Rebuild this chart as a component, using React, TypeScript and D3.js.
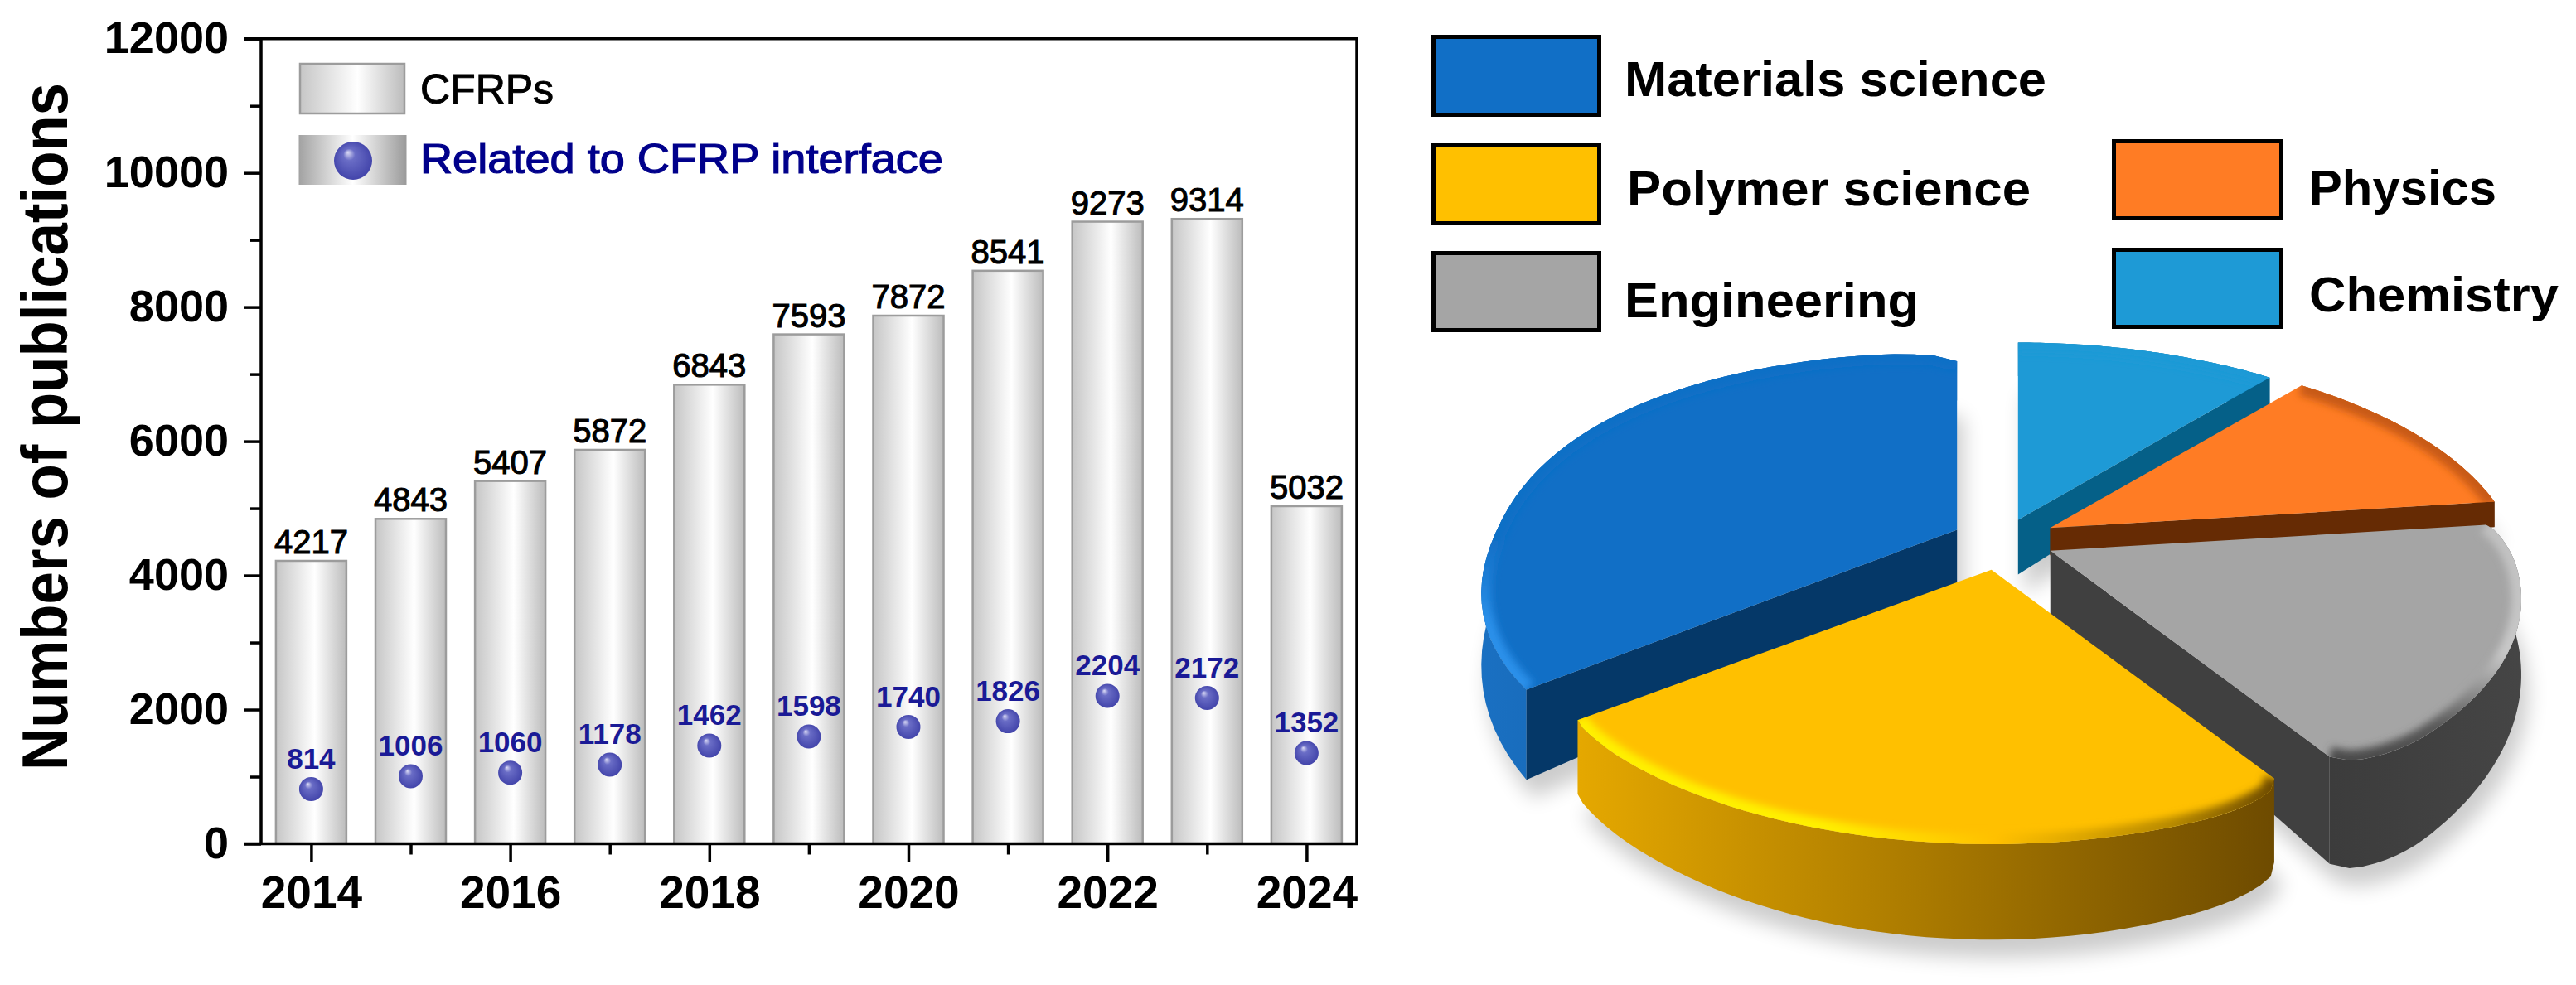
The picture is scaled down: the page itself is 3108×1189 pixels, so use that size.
import { useEffect, useRef } from "react";
import * as d3 from "d3";

// bar + sphere panel
const years = [2014, 2015, 2016, 2017, 2018, 2019, 2020, 2021, 2022, 2023, 2024];
const cfrpCounts = [4217, 4843, 5407, 5872, 6843, 7593, 7872, 8541, 9273, 9314, 5032];
const interfaceCounts = [814, 1006, 1060, 1178, 1462, 1598, 1740, 1826, 2204, 2172, 1352];
const yMajorTicks = [0, 2000, 4000, 6000, 8000, 10000, 12000];
const yMinorTicks = [1000, 3000, 5000, 7000, 9000, 11000];
const xMajorTicks = [2014, 2016, 2018, 2020, 2022, 2024];
const xMinorTicks = [2015, 2017, 2019, 2021, 2023];

// pie panel, clockwise from 12 o'clock
const pieCategories = ["Chemistry", "Physics", "Engineering", "Polymer science", "Materials science"];
const pieShares = [11, 12, 18, 23.5, 35.5];
const pieExplode = [0.1, 0.118, 0.115, 0.14, 0.11];
const pieThickness = [1.1, 0.55, 1.35, 1.05, 1.25];
const pieRoundStart = [0, 0, 0.02, 0.05, 0];
const pieRoundEnd = [0, 0, 0.06, 0.01, 0.06];
const pieBulge = [2, 2, 2, 2, 2.2];
const pieTopColors = ["#1e9ad6", "#ff7c24", "#a5a5a5", "#ffc000", "#116fc6"];
const pieWallColors = ["#056088", "#662b04", "#404040", "#6e4b00", "#053868"];
const pieOuterLeft = ["#056088", "#8a3d08", "#3c3c3c", "#e5a800", "#1a70c2"];
const pieOuterRight = ["#056088", "#662b04", "#454545", "#6e4b00", "#0b4e8e"];
const pieBevelStops: [number, string][][] = [
  [[0, "#1e9ad6"], [1, "#1e9ad6"]],
  [[0, "#c85a12"], [1, "#c85a12"]],
  [[0, "#c0c0c0"], [0.55, "#c8c8c8"], [0.85, "#5a5a5a"], [1, "#4a4a4a"]],
  [[0, "#fff000"], [0.35, "#fff000"], [0.6, "#ffc000"], [0.85, "#b88a00"], [1, "#6e4b00"]],
  [[0, "#116fc6"], [0.55, "#116fc6"], [0.8, "#2b90ea"], [1, "#2b90ea"]],
];
const pieBevelVertical = [false, false, true, false, true];

const pieLegendRows = [
  { name: "Materials science", box: [1727, 42, 205, 99], tx: 1960, ty: 116, len: 509 },
  { name: "Polymer science", box: [1727, 173, 205, 99], tx: 1963, ty: 248, len: 487 },
  { name: "Engineering", box: [1727, 303, 205, 98], tx: 1960, ty: 383, len: 355 },
  { name: "Physics", box: [2548, 168, 207, 98], tx: 2786, ty: 247, len: 226 },
  { name: "Chemistry", box: [2548, 299, 207, 98], tx: 2786, ty: 376, len: 301 },
];

const FONT = "'Liberation Sans', Arial, sans-serif";

export default function App() {
  const ref = useRef<SVGSVGElement>(null);

  useEffect(() => {
    const svg = d3.select(ref.current);
    svg.selectAll("*").remove();
    const defs = svg.append("defs");

    const addLinear = (id: string, stops: [number, string][], vertical = false) => {
      const g = defs
        .append("linearGradient")
        .attr("id", id)
        .attr("x1", 0)
        .attr("y1", 0)
        .attr("x2", vertical ? 0 : 1)
        .attr("y2", vertical ? 1 : 0);
      stops.forEach(([o, c]) => g.append("stop").attr("offset", o).attr("stop-color", c));
    };
    addLinear("barFill", [
      [0, "#c6c6c6"],
      [0.55, "#ffffff"],
      [1, "#bcbcbc"],
    ]);
    addLinear("legendBall", [
      [0, "#a2a2a2"],
      [0.5, "#ffffff"],
      [1, "#9a9a9a"],
    ]);
    const ball = defs
      .append("radialGradient")
      .attr("id", "ball")
      .attr("cx", 0.5)
      .attr("cy", 0.5)
      .attr("r", 0.55)
      .attr("fx", 0.36)
      .attr("fy", 0.28);
    ball.append("stop").attr("offset", 0).attr("stop-color", "#dcdcf6");
    ball.append("stop").attr("offset", 0.28).attr("stop-color", "#6a6dc6");
    ball.append("stop").attr("offset", 1).attr("stop-color", "#3f41a8");

    const blur = (id: string, dev: number) =>
      defs
        .append("filter")
        .attr("id", id)
        .attr("filterUnits", "userSpaceOnUse")
        .attr("x", 0)
        .attr("y", 0)
        .attr("width", 3108)
        .attr("height", 1189)
        .append("feGaussianBlur")
        .attr("stdDeviation", dev);
    blur("softShadow", 12);
    blur("softBevel", 5);

    // ---------- bars ----------
    const xScale = d3.scaleLinear().domain([2014, 2024]).range([375.4, 1576.4]);
    const yScale = d3.scaleLinear().domain([0, 12000]).range([1018.5, 46.7]);
    const barWidth = 85;
    const chart = svg.append("g");

    chart
      .selectAll("rect.bar")
      .data(cfrpCounts)
      .join("rect")
      .attr("class", "bar")
      .attr("x", (_, i) => xScale(years[i]) - barWidth / 2)
      .attr("y", (d) => yScale(d))
      .attr("width", barWidth)
      .attr("height", (d) => yScale(0) - yScale(d))
      .attr("fill", "url(#barFill)")
      .attr("stroke", "#9c9c9c")
      .attr("stroke-width", 2.5);

    chart
      .selectAll("text.barLabel")
      .data(cfrpCounts)
      .join("text")
      .attr("class", "barLabel")
      .attr("x", (_, i) => xScale(years[i]))
      .attr("y", (d) => yScale(d) - 9)
      .attr("text-anchor", "middle")
      .attr("font-family", FONT)
      .attr("font-size", 40)
      .attr("fill", "#000")
      .attr("stroke", "#000")
      .attr("stroke-width", 1.1)
      .text((d) => d);

    chart
      .selectAll("circle.ball")
      .data(interfaceCounts)
      .join("circle")
      .attr("class", "ball")
      .attr("cx", (_, i) => xScale(years[i]))
      .attr("cy", (d) => yScale(d))
      .attr("r", 14.5)
      .attr("fill", "url(#ball)");

    chart
      .selectAll("text.ballLabel")
      .data(interfaceCounts)
      .join("text")
      .attr("class", "ballLabel")
      .attr("x", (_, i) => xScale(years[i]))
      .attr("y", (d) => yScale(d) - 25)
      .attr("text-anchor", "middle")
      .attr("font-family", FONT)
      .attr("font-weight", "bold")
      .attr("font-size", 35)
      .attr("fill", "#1a1a96")
      .text((d) => d);

    // ---------- axes ----------
    const styleAxis = (g: any, fontSize: number) => {
      g.selectAll("path.domain").remove();
      g.selectAll("line").attr("stroke", "#000").attr("stroke-width", 3.5);
      g.selectAll("text")
        .attr("font-family", FONT)
        .attr("font-weight", "bold")
        .attr("font-size", fontSize)
        .attr("fill", "#000");
    };
    const axisX = 315;
    const axisY = yScale(0);
    chart
      .append("g")
      .attr("transform", `translate(${axisX},0)`)
      .call(d3.axisLeft(yScale).tickValues(yMajorTicks).tickSize(21).tickPadding(18).tickFormat(d3.format("d")) as any)
      .call((g: any) => styleAxis(g, 54));
    chart
      .append("g")
      .attr("transform", `translate(${axisX},0)`)
      .call(d3.axisLeft(yScale).tickValues(yMinorTicks).tickSize(13).tickFormat(() => "") as any)
      .call((g: any) => styleAxis(g, 54));
    chart
      .append("g")
      .attr("transform", `translate(0,${axisY})`)
      .call(d3.axisBottom(xScale).tickValues(xMajorTicks).tickSize(22).tickPadding(16).tickFormat(d3.format("d")) as any)
      .call((g: any) => styleAxis(g, 55));
    chart
      .append("g")
      .attr("transform", `translate(0,${axisY})`)
      .call(d3.axisBottom(xScale).tickValues(xMinorTicks).tickSize(13).tickFormat(() => "") as any)
      .call((g: any) => styleAxis(g, 55));

    // frame
    chart
      .append("path")
      .attr("d", `M294,${yScale(12000)}H1637V${axisY}H294M${axisX},${yScale(12000)}V${axisY}`)
      .attr("fill", "none")
      .attr("stroke", "#000")
      .attr("stroke-width", 3.5);

    chart
      .append("text")
      .attr("transform", "translate(81,515) rotate(-90)")
      .attr("text-anchor", "middle")
      .attr("font-family", FONT)
      .attr("font-weight", "bold")
      .attr("font-size", 77)
      .attr("textLength", 830)
      .attr("lengthAdjust", "spacingAndGlyphs")
      .text("Numbers of publications");

    // legend
    chart
      .append("rect")
      .attr("x", 362)
      .attr("y", 77)
      .attr("width", 126)
      .attr("height", 60)
      .attr("fill", "url(#barFill)")
      .attr("stroke", "#9c9c9c")
      .attr("stroke-width", 2.5);
    chart
      .append("text")
      .attr("x", 507)
      .attr("y", 125)
      .attr("font-family", FONT)
      .attr("font-size", 50)
      .attr("stroke", "#000")
      .attr("stroke-width", 1)
      .text("CFRPs");
    chart
      .append("rect")
      .attr("x", 360.5)
      .attr("y", 163)
      .attr("width", 130)
      .attr("height", 60)
      .attr("fill", "url(#legendBall)");
    chart.append("circle").attr("cx", 426).attr("cy", 194).attr("r", 23).attr("fill", "url(#ball)");
    chart
      .append("text")
      .attr("x", 507)
      .attr("y", 209)
      .attr("font-family", FONT)
      .attr("font-size", 50)
      .attr("fill", "#00008b")
      .attr("stroke", "#00008b")
      .attr("stroke-width", 1.2)
      .attr("textLength", 631)
      .attr("lengthAdjust", "spacingAndGlyphs")
      .text("Related to CFRP interface");

    // ---------- pie legend ----------
    const legend = svg.append("g");
    pieLegendRows.forEach((row) => {
      const [x, y, w, h] = row.box;
      legend
        .append("rect")
        .attr("x", x + 2.5)
        .attr("y", y + 2.5)
        .attr("width", w - 5)
        .attr("height", h - 5)
        .attr("fill", pieTopColors[pieCategories.indexOf(row.name)])
        .attr("stroke", "#000")
        .attr("stroke-width", 5);
      legend
        .append("text")
        .attr("x", row.tx)
        .attr("y", row.ty)
        .attr("font-family", FONT)
        .attr("font-weight", "bold")
        .attr("font-size", 60)
        .attr("textLength", row.len)
        .attr("lengthAdjust", "spacingAndGlyphs")
        .text(row.name);
    });

    // ---------- exploded 3D pie ----------
    const centre = [2416, 652];
    const radiusX = 555;
    const radiusY = 260;
    const persp = 0.2147;
    const baseDepth = 60;
    const cornerSpan = 0.2;

    const project = (X: number, Y: number) => {
      const w = 1 / (1 - persp * Y);
      return { x: radiusX * X * w, y: radiusY * Y * w, w };
    };
    const line = d3.line();

    const arcs = d3.pie<number>().sort(null)(pieShares);
    const slices = arcs.map((arc, i) => {
      const mid = (arc.startAngle + arc.endAngle) / 2;
      const ax = centre[0] + radiusX * pieExplode[i] * Math.sin(mid);
      const ay = centre[1] - radiusY * pieExplode[i] * Math.cos(mid);
      const depth = (w: number) => baseDepth * pieThickness[i] * Math.pow(w, 2.5);
      const bulge = (v: number) => Math.sign(v) * Math.pow(Math.abs(v), 2 / pieBulge[i]);
      // pulls the rim in just before a cut so the corners come out rounded
      const rim = (t: number) => {
        const corner = (dist: number, amount: number) => {
          const u = Math.min(dist / cornerSpan, 1);
          return amount * (1 - Math.sqrt(1 - (1 - u) * (1 - u)));
        };
        return 1 - corner(t - arc.startAngle, pieRoundStart[i]) - corner(arc.endAngle - t, pieRoundEnd[i]);
      };
      const top: [number, number][] = [];
      const bottom: [number, number][] = [];
      d3.range(0, 49).forEach((k) => {
        const t = arc.startAngle + ((arc.endAngle - arc.startAngle) * k) / 48;
        const r = rim(t);
        const p = project(r * bulge(Math.sin(t)), -r * bulge(Math.cos(t)));
        top.push([ax + p.x, ay + p.y]);
        bottom.push([ax + p.x, ay + p.y + depth(p.w)]);
      });
      const apex: [number, number] = [ax, ay];
      const apexDown: [number, number] = [ax, ay + depth(1)];
      return { i, apex, apexDown, top, bottom };
    });

    const pieG = svg.append("g");

    // soft floor shadow under every piece
    slices.forEach((s) => {
      pieG
        .append("path")
        .attr("d", line([s.apexDown, ...s.bottom])! + "Z")
        .attr("transform", "translate(8,22)")
        .attr("fill", "#000")
        .attr("opacity", 0.2)
        .attr("filter", "url(#softShadow)");
    });

    // painter's order, back to front
    [0, 1, 4, 2, 3].forEach((idx) => {
      const s = slices[idx];
      addLinear(`outer${idx}`, [
        [0, pieOuterLeft[idx]],
        [1, pieOuterRight[idx]],
      ]);
      addLinear(`bevel${idx}`, pieBevelStops[idx], pieBevelVertical[idx]);
      defs
        .append("clipPath")
        .attr("id", `face${idx}`)
        .append("path")
        .attr("d", line([s.apex, ...s.top])! + "Z");

      pieG
        .append("path")
        .attr("d", line([...s.top, ...s.bottom.slice().reverse()])! + "Z")
        .attr("fill", `url(#outer${idx})`);

      // radial walls only where the cut faces the viewer
      const mid = s.top[24];
      [s.top[0], s.top[48]].forEach((end, e) => {
        const dx = end[0] - s.apex[0];
        const dy = end[1] - s.apex[1];
        const inner = dx * (mid[1] - s.apex[1]) - dy * (mid[0] - s.apex[0]);
        const down = dx;
        if (inner * down >= 0) return;
        if (Math.abs(dx) < 8) return;
        const endDown = s.bottom[e === 0 ? 0 : 48];
        pieG
          .append("path")
          .attr("d", line([s.apex, end, endDown, s.apexDown])! + "Z")
          .attr("fill", pieWallColors[idx]);
      });

      pieG
        .append("path")
        .attr("d", line([s.apex, ...s.top])! + "Z")
        .attr("fill", pieTopColors[idx]);

      pieG
        .append("g")
        .attr("clip-path", `url(#face${idx})`)
        .append("path")
        .attr("d", line(s.top)!)
        .attr("fill", "none")
        .attr("stroke", `url(#bevel${idx})`)
        .attr("stroke-width", 24)
        .attr("filter", "url(#softBevel)");
    });
  }, []);

  return (
    <svg
      ref={ref}
      width={3108}
      height={1189}
      style={{ position: "absolute", left: 0, top: 0, background: "#fff" }}
    />
  );
}
